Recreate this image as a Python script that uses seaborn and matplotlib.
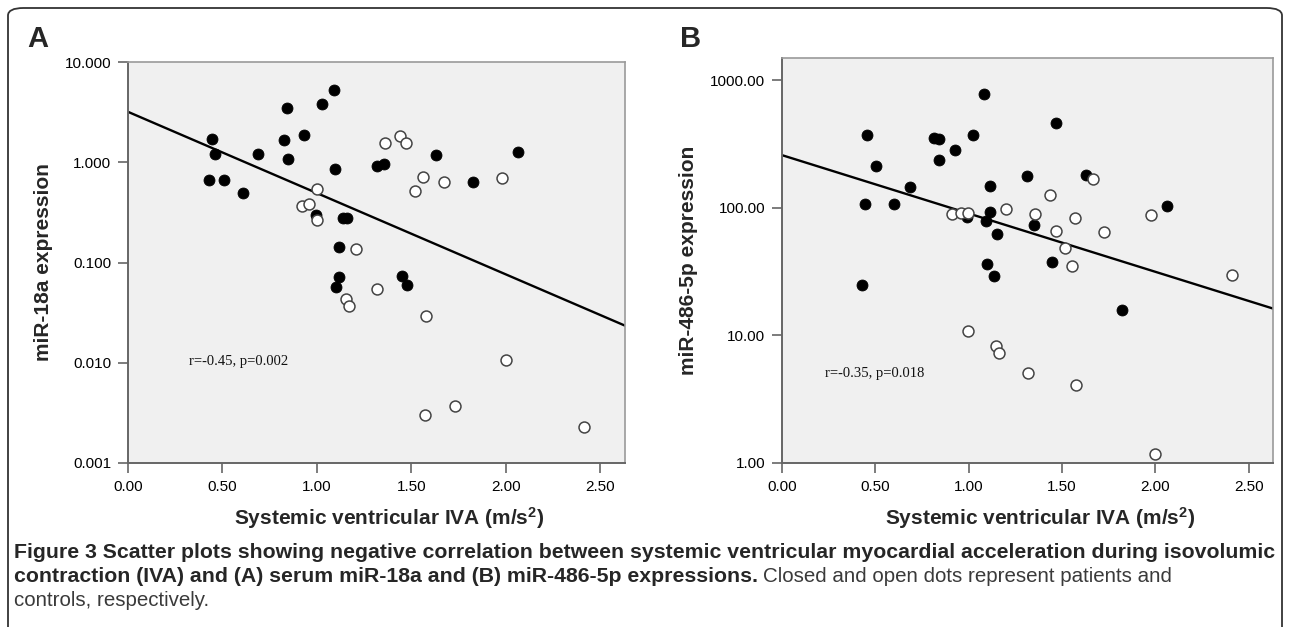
import matplotlib
matplotlib.use('Agg')
import matplotlib.pyplot as plt
import seaborn as sns
import pandas as pd
from matplotlib.patches import FancyBboxPatch
from matplotlib.ticker import FixedLocator, FormatStrFormatter, NullLocator

# Panel A - miR-18a expression vs systemic ventricular IVA
a_patient_x = [0.447, 0.461, 0.429, 0.510, 0.607, 0.687, 0.842, 0.823, 0.846, 0.929,
               1.029, 1.088, 1.098, 0.996, 1.140, 1.160, 1.119, 1.119, 1.102, 1.317,
               1.356, 1.448, 1.478, 1.631, 1.826, 2.064]
a_patient_y = [1.69, 1.22, 0.66, 0.66, 0.49, 1.20, 3.47, 1.66, 1.07, 1.86,
               3.80, 5.25, 0.85, 0.30, 0.277, 0.277, 0.143, 0.071, 0.057, 0.91,
               0.955, 0.074, 0.059, 1.17, 0.63, 1.26]
a_control_x = [0.999, 0.920, 0.960, 0.999, 1.204, 1.151, 1.169, 1.319, 1.360, 1.441,
               1.471, 1.561, 1.520, 1.578, 1.670, 1.981, 1.998, 1.573, 1.732, 2.414]
a_control_y = [0.537, 0.363, 0.38, 0.267, 0.136, 0.0436, 0.037, 0.055, 1.54, 1.83,
               1.56, 0.71, 0.52, 0.029, 0.64, 0.70, 0.0107, 0.0030, 0.0037, 0.0023]
a_fit = (0.503, -0.811)  # log10(y) = intercept + slope * x
a_ticks = [0.001, 0.01, 0.1, 1, 10]
a_note = 'r=-0.45, p=0.002'

# Panel B - miR-486-5p expression vs systemic ventricular IVA
b_patient_x = [0.453, 0.503, 0.442, 0.601, 0.683, 0.426, 0.813, 0.840, 0.840, 0.925,
               1.025, 1.082, 1.116, 1.116, 1.091, 1.153, 1.096, 1.135, 1.314, 1.348,
               1.444, 1.469, 1.629, 2.060, 1.822, 0.991]
b_patient_y = [372, 213, 107, 107, 146, 24.8, 355, 347, 236, 282,
               370, 785, 147, 93, 78.5, 62.5, 36.4, 29.3, 177, 73.5,
               37.5, 462, 180, 104, 15.8, 84.9]
b_control_x = [0.913, 0.957, 0.996, 1.198, 1.355, 1.437, 1.465, 1.665, 1.568, 1.515,
               1.556, 1.726, 1.975, 2.410, 0.995, 1.146, 1.164, 1.316, 1.574, 1.998]
b_control_y = [88.7, 91.2, 90.2, 97, 89, 126, 65.2, 167, 83, 48.3,
               34.9, 64, 87.5, 29.5, 10.9, 8.2, 7.3, 5.04, 4.08, 1.18]
b_fit = (2.412, -0.457)
b_ticks = [1, 10, 100, 1000]
b_note = 'r=-0.35, p=0.018'

x_ticks = [0.0, 0.5, 1.0, 1.5, 2.0, 2.5]
x_max = 2.63

sns.set_theme(style='ticks')
plt.rcParams['font.family'] = ['Liberation Sans', 'DejaVu Sans']
plt.rcParams['mathtext.fontset'] = 'custom'
plt.rcParams['mathtext.bf'] = 'Liberation Sans:bold'
plt.rcParams['mathtext.rm'] = 'Liberation Sans'

fig = plt.figure(figsize=(12.9, 6.27), dpi=100)
fig.patch.set_facecolor('white')

# rounded outer frame
frame = FancyBboxPatch((8 / 1290, -0.2), 1274 / 1290, 1.2 - 8 / 627,
                       boxstyle='round,pad=0,rounding_size=0.012',
                       transform=fig.transFigure, facecolor='none',
                       edgecolor='#333333', linewidth=1.3)
fig.patches.append(frame)

ax_a = fig.add_axes([128 / 1290, 1 - 463 / 627, 497 / 1290, 401 / 627])
ax_b = fig.add_axes([782 / 1290, 1 - 463 / 627, 491 / 1290, 405 / 627])


def draw_panel(ax, px, py, cx, cy, fit, ticks, ylim, yfmt, ylabel, note, note_xy, ylab_x):
    ax.set_facecolor('#f0f0f0')
    patients = pd.DataFrame({'iva': px, 'expr': py})
    controls = pd.DataFrame({'iva': cx, 'expr': cy})
    line = pd.DataFrame({'iva': [0, x_max]})
    line['expr'] = 10 ** (fit[0] + fit[1] * line['iva'])

    sns.lineplot(data=line, x='iva', y='expr', ax=ax, color='black', linewidth=1.7, zorder=2)
    sns.scatterplot(data=patients, x='iva', y='expr', ax=ax, color='black',
                    edgecolor='black', s=62, linewidth=0.6, zorder=3)
    sns.scatterplot(data=controls, x='iva', y='expr', ax=ax, color='white',
                    edgecolor='#444444', s=62, linewidth=1.1, zorder=4)

    ax.set_yscale('log')
    ax.set_xlim(0, x_max)
    ax.set_ylim(*ylim)
    ax.yaxis.set_major_locator(FixedLocator(ticks))
    ax.yaxis.set_major_formatter(FormatStrFormatter(yfmt))
    ax.yaxis.set_minor_locator(NullLocator())
    ax.xaxis.set_major_locator(FixedLocator(x_ticks))
    ax.xaxis.set_major_formatter(FormatStrFormatter('%.2f'))

    for side in ['top', 'right']:
        ax.spines[side].set_color('#9a9a9a')
        ax.spines[side].set_linewidth(1.2)
    for side in ['left', 'bottom']:
        ax.spines[side].set_color('#666666')
        ax.spines[side].set_linewidth(1.4)
    ax.tick_params(direction='out', length=7, width=1.2, color='#666666',
                   labelsize=11, pad=5, labelcolor='black')

    ax.set_ylabel(ylabel, fontsize=15, fontweight='bold')
    ax.yaxis.set_label_coords(ylab_x, 0.5)
    ax.set_xlabel(r'Systemic ventricular IVA (m/s$\mathbf{^{2}}$)', fontsize=15,
                  fontweight='bold')
    ax.xaxis.set_label_coords(0.525, -0.105)

    ax.text(note_xy[0], note_xy[1], note, family=['Liberation Serif', 'DejaVu Serif'],
            fontsize=10.5, va='center', ha='left', color='#111111')


draw_panel(ax_a, a_patient_x, a_patient_y, a_control_x, a_control_y, a_fit,
           a_ticks, (0.001, 10), '%.3f', 'miR-18a expression', a_note,
           (0.323, 0.0102), -0.15)
draw_panel(ax_b, b_patient_x, b_patient_y, b_control_x, b_control_y, b_fit,
           b_ticks, (1, 1490), '%.2f', 'miR-486-5p expression', b_note,
           (0.230, 5.04), -0.172)

fig.text(27 / 1290, 1 - 39 / 627, 'A', fontsize=21, fontweight='bold', va='center', ha='left')
fig.text(680 / 1290, 1 - 39 / 627, 'B', fontsize=21, fontweight='bold', va='center', ha='left')

# caption
cap_font = ['Liberation Sans', 'DejaVu Sans']
cap_size = 15.3
fig.text(14 / 1290, 1 - 552 / 627,
         'Figure 3 Scatter plots showing negative correlation between systemic ventricular '
         'myocardial acceleration during isovolumic',
         family=cap_font, fontsize=cap_size, fontweight='bold', va='center', ha='left')
bold_part = fig.text(14 / 1290, 1 - 576 / 627,
                     'contraction (IVA) and (A) serum miR-18a and (B) miR-486-5p expressions.',
                     family=cap_font, fontsize=cap_size, fontweight='bold', va='center', ha='left')
renderer = fig.canvas.get_renderer()
bb = bold_part.get_window_extent(renderer)
fig.text((bb.x1 + 5) / 1290, 1 - 576 / 627,
         'Closed and open dots represent patients and',
         family=cap_font, fontsize=cap_size - 0.5, va='center', ha='left', color='#3a3a3a')
fig.text(14 / 1290, 1 - 600 / 627, 'controls, respectively.',
         family=cap_font, fontsize=cap_size - 0.5, va='center', ha='left', color='#3a3a3a')

fig.savefig('out.png', dpi=100)
